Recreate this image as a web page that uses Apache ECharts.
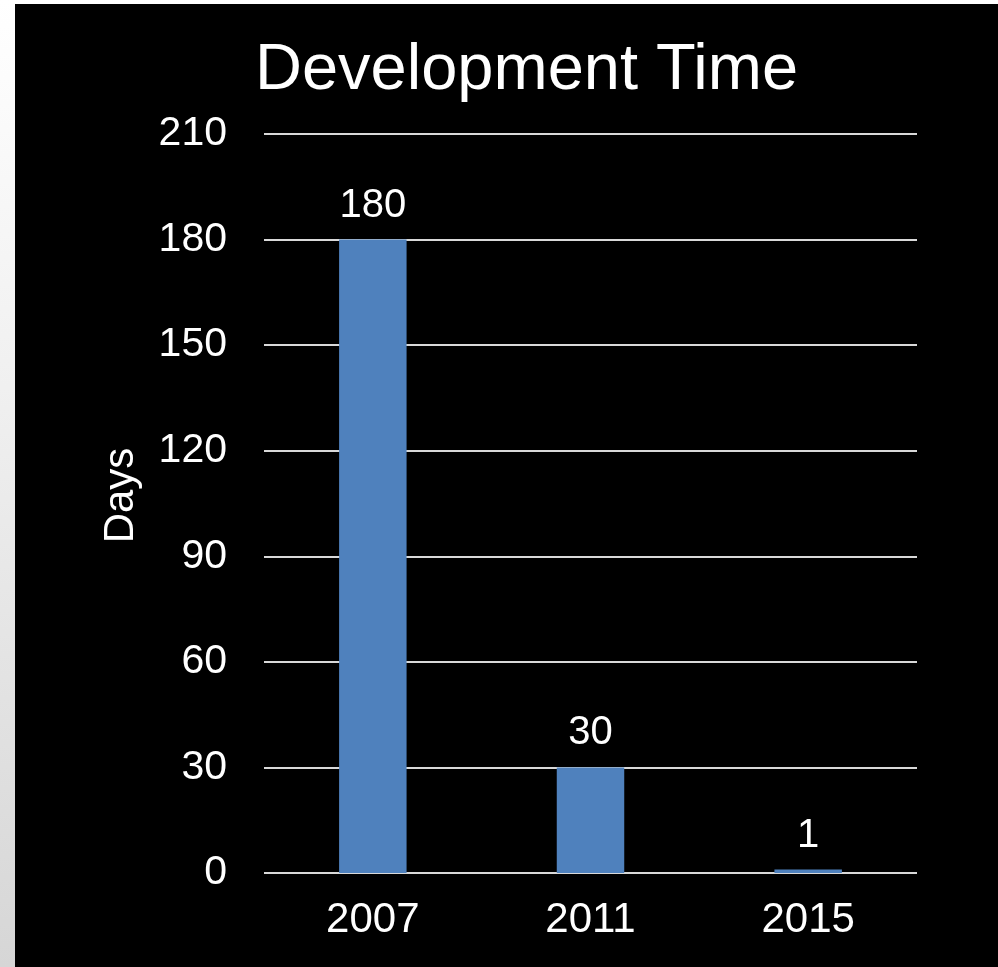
<!DOCTYPE html>
<html>
<head>
<meta charset="utf-8">
<script src="https://cdn.jsdelivr.net/npm/echarts@6/dist/echarts.min.js"></script>
<style>
  html, body { margin: 0; padding: 0; width: 998px; height: 967px; overflow: hidden;
    background: linear-gradient(to bottom, #ffffff 0%, #f0f0f0 40%, #d6d6d6 100%); }
  #chart { position: absolute; left: 15px; top: 4px; width: 983px; height: 963px; }
</style>
</head>
<body>
<div id="chart"></div>
<script>
const categories = ['2007', '2011', '2015'];
const days = [180, 30, 1];
const yTicks = { min: 0, max: 210, interval: 30 };
const titleText = 'Development Time';
const yName = 'Days';

const chart = echarts.init(document.getElementById('chart'));
chart.setOption({
  backgroundColor: '#000000',
  animation: false,
  textStyle: { fontFamily: 'Liberation Sans, Arial, sans-serif' },
  title: {
    text: titleText,
    left: 240,
    top: 35,
    padding: 0,
    textStyle: { color: '#ffffff', fontSize: 65, fontWeight: 'normal', fontFamily: 'Liberation Sans, Arial, sans-serif' }
  },
  grid: { left: 249, right: 81, top: 130, bottom: 94, containLabel: false },
  xAxis: {
    type: 'category',
    data: categories,
    axisLine: { show: false },
    axisTick: { show: false },
    axisLabel: { color: '#ffffff', fontSize: 42, margin: 26 }
  },
  yAxis: {
    type: 'value',
    min: yTicks.min,
    max: yTicks.max,
    interval: yTicks.interval,
    name: yName,
    nameLocation: 'middle',
    nameRotate: 90,
    nameGap: 122,
    nameTextStyle: { color: '#ffffff', fontSize: 42, padding: [0, 0, 0, 16] },
    axisLine: { show: false },
    axisTick: { show: false },
    axisLabel: { color: '#ffffff', fontSize: 41, margin: 37 },
    splitLine: { lineStyle: { color: '#d9d9d9', width: 2 } }
  },
  series: [{
    type: 'bar',
    data: days,
    barWidth: '31%',
    itemStyle: { color: '#4f81bd' },
    label: { show: true, position: 'top', distance: 14, color: '#ffffff', fontSize: 40 }
  }]
});
</script>
</body>
</html>
